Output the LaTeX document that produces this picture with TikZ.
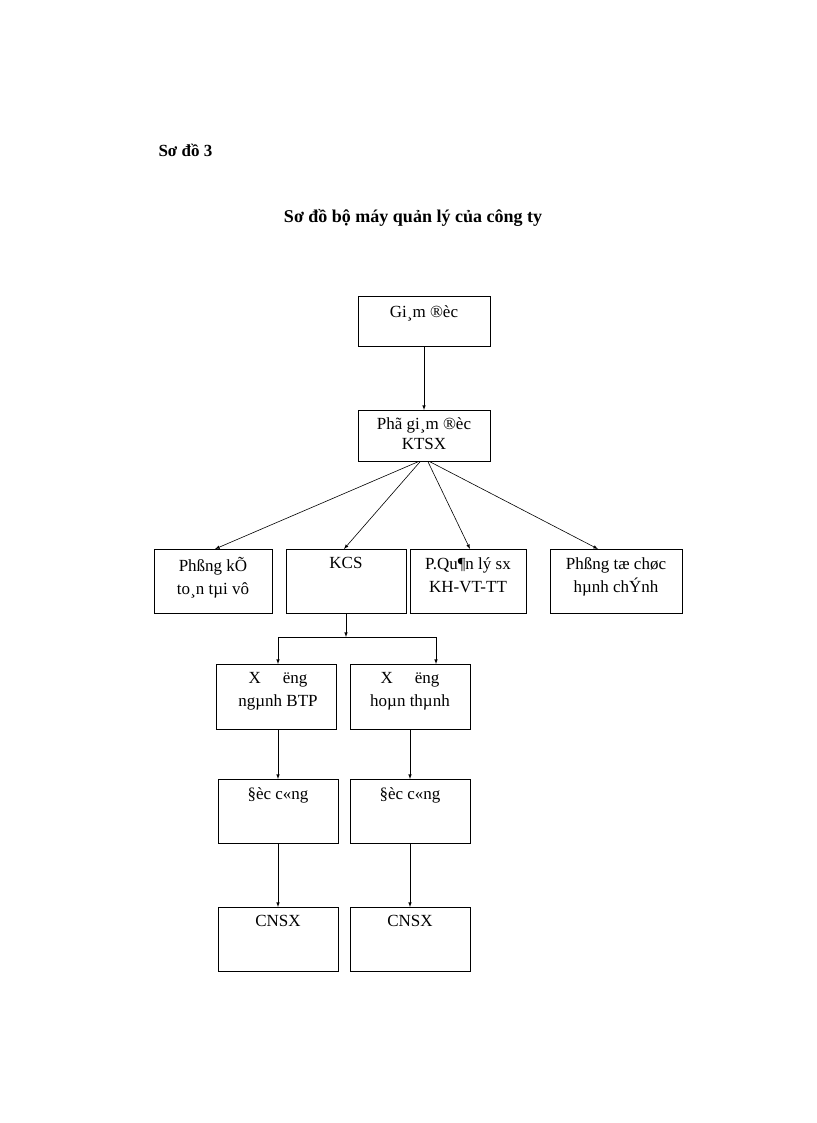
\documentclass[tikz,border=0pt]{standalone}
\usepackage{fontspec}
\setmainfont{Liberation Serif}
\begin{document}
\begin{tikzpicture}[x=1pt,y=-1pt,
 box/.style={draw,line width=0.8pt,rectangle,inner sep=0pt,align=center,anchor=north,
   font=\fontsize{17}{22}\selectfont,text depth=0pt},
 arr/.style={-latex,line width=0.6pt}]
\useasboundingbox (0,0) rectangle (816,1123);
\node[anchor=west,font=\bfseries\fontsize{17}{19}\selectfont] (t1) at (155,150) {Sơ đồ 3};
\node[font=\bfseries\fontsize{18}{20}\selectfont] (t2) at (413,218) {Sơ đồ bộ máy quản lý của công ty};
% boxes: north anchor at top-center, text placed via label
\node[box,minimum width=132,minimum height=50] (gd) at (424,296) {};
\node[anchor=north,font=\fontsize{17}{22}\selectfont] at (424,302) {Gi¸m ®èc};
\node[box,minimum width=132,minimum height=51] (pgd) at (424,410) {};
\node[anchor=north,align=center,font=\fontsize{17}{20}\selectfont] at (424,414) {Phã gi¸m ®èc\\KTSX};
\node[box,minimum width=118,minimum height=64] (pkt) at (213,549) {};
\node[anchor=north,align=center,font=\fontsize{17}{23}\selectfont] at (213,554) {Phßng kÕ\\to¸n tµi vô};
\node[box,minimum width=120,minimum height=64] (kcs) at (346,549) {};
\node[anchor=north,font=\fontsize{17}{23}\selectfont] at (346,554) {KCS};
\node[box,minimum width=116,minimum height=64] (pql) at (468,549) {};
\node[anchor=north,align=center,font=\fontsize{17}{23}\selectfont] at (468,554) {P.Qu¶n lý sx\\KH-VT-TT};
\node[box,minimum width=132,minimum height=64] (ptc) at (616,549) {};
\node[anchor=north,align=center,font=\fontsize{17}{23}\selectfont] at (616,554) {Phßng tæ chøc\\hµnh chÝnh};
\node[box,minimum width=120,minimum height=65] (xa) at (276,664) {};
\node[anchor=north,align=center,font=\fontsize{17}{23}\selectfont] at (278,669) {X\hspace{22pt}ëng\\ngµnh BTP};
\node[box,minimum width=120,minimum height=65] (xb) at (410,664) {};
\node[anchor=north,align=center,font=\fontsize{17}{23}\selectfont] at (410,669) {X\hspace{22pt}ëng\\hoµn thµnh};
\node[box,minimum width=120,minimum height=64] (da) at (278,779) {};
\node[anchor=north,font=\fontsize{17}{23}\selectfont] at (278,784) {§èc c«ng};
\node[box,minimum width=120,minimum height=64] (db) at (410,779) {};
\node[anchor=north,font=\fontsize{17}{23}\selectfont] at (410,784) {§èc c«ng};
\node[box,minimum width=120,minimum height=64] (ca) at (278,907) {};
\node[anchor=north,font=\fontsize{17}{23}\selectfont] at (278,912) {CNSX};
\node[box,minimum width=120,minimum height=64] (cb) at (410,907) {};
\node[anchor=north,font=\fontsize{17}{23}\selectfont] at (410,912) {CNSX};
% connectors
\draw[arr] (gd.south) -- (pgd.north);
\draw[arr] ([xshift=-6pt]pgd.south) -- ([xshift=2pt]pkt.north);
\draw[arr] ([xshift=-4pt]pgd.south) -- ([xshift=-2pt]kcs.north);
\draw[arr] ([xshift=4pt]pgd.south) -- ([xshift=2pt]pql.north);
\draw[arr] ([xshift=6pt]pgd.south) -- ([xshift=-18pt]ptc.north);
\coordinate (j) at (346,637);
\draw[arr] (kcs.south) -- (j);
\draw[line width=0.6pt] (278,637) -- (436,637);
\draw[arr] (278,637) -- (xa.north -| 278,0);
\draw[arr] (436,637) -- (xb.north -| 436,0);
\draw[arr] (xa.south -| 278,0) -- (da.north);
\draw[arr] (xb.south) -- (db.north);
\draw[arr] (da.south) -- (ca.north);
\draw[arr] (db.south) -- (cb.north);
\end{tikzpicture}
\end{document}
